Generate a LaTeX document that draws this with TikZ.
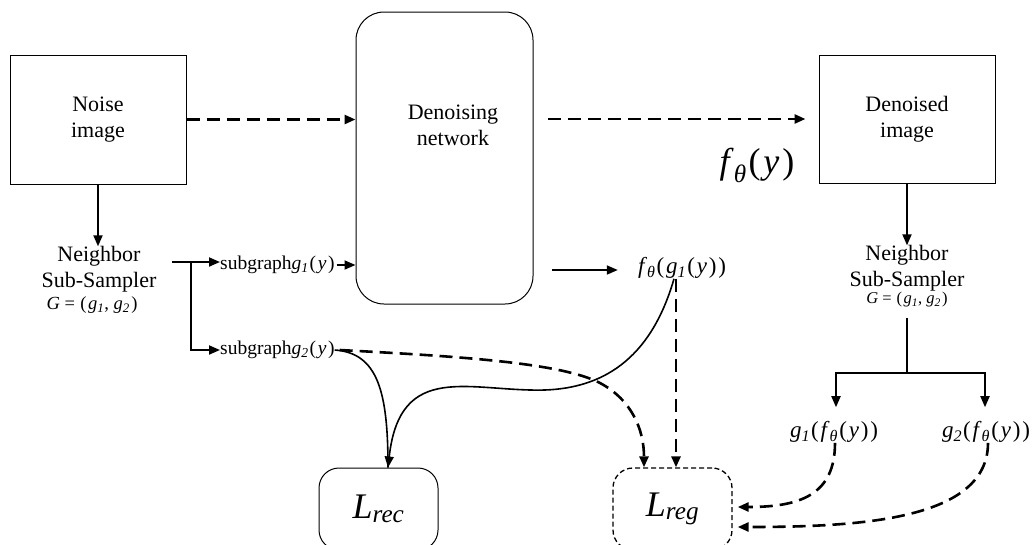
\documentclass[tikz,border=0pt]{standalone}
\usepackage{fontspec}
\setmainfont{Liberation Serif}
\usetikzlibrary{arrows.meta}
\newcommand{\ii}[1]{\textit{#1}}
\newcommand{\sbi}[1]{\textsubscript{\textit{#1}}}
\newcommand{\lp}{\kern0.05em(\kern0.08em}
\newcommand{\rp}{\kern0.08em)}
\begin{document}
\begin{tikzpicture}[x=1pt,y=-1pt,
  box/.style={draw, line width=1pt, inner sep=0pt},
  txt/.style={font=\fontsize{22}{26}\selectfont, align=center, inner sep=0pt},
  smtxt/.style={font=\fontsize{19.5}{19.5}\selectfont, inner sep=0pt},
  mtxt/.style={font=\fontsize{23}{23}\selectfont, inner sep=0pt},
  tip/.style={-{Triangle[length=11pt,width=9pt]}},
  sol/.style={line width=1.8pt, tip},
  dsh/.style={line width=2.6pt, dash pattern=on 13pt off 7pt, tip},
  crv/.style={line width=1.6pt}]
\useasboundingbox (0,0) rectangle (1033,544);
\fill[white] (0,0) rectangle (1033,544);
\clip (0,0) rectangle (1033,544);

% boxes
\node[box, txt, minimum width=176pt, minimum height=129pt] (noise) at (98,119.5) {Noise\\image};
\node[box, rounded corners=28pt, minimum width=177pt, minimum height=292pt] (dn) at (444.5,158) {};
\node[txt] (dnt) at (453,125) {Denoising\\network};
\node[box, txt, minimum width=176pt, minimum height=128pt] (dd) at (907,119) {Denoised\\image};
\node[font=\fontsize{36}{36}\selectfont, inner sep=0pt] (fy) at (757,165) {\ii{f}\sbi{θ}\lp\ii{y}\rp};

% left sub-sampler
\node[txt] (ns1) at (99,269.5) {Neighbor\\Sub-Sampler};
\node[font=\fontsize{18.5}{18.5}\selectfont, inner sep=0pt] (G1) at (92,305) {\ii{G} = \lp\ii{g}\sbi{1}, \ii{g}\sbi{2}\rp};
\node[smtxt, anchor=west] (sg1) at (220,265) {subgraph\ii{g}\sbi{1}\lp\ii{y}\rp};
\node[smtxt, anchor=west] (sg2) at (220,350) {subgraph\ii{g}\sbi{2}\lp\ii{y}\rp};
\coordinate (nso) at (172,262);
\coordinate (br) at (191,262);
\coordinate (dnout) at (552,270);

% right sub-sampler
\node[txt] (ns2) at (907,268.5) {Neighbor\\Sub-Sampler};
\node[font=\fontsize{16.5}{16.5}\selectfont, inner sep=0pt] (G2) at (907,300) {\ii{G} = \lp\ii{g}\sbi{1}, \ii{g}\sbi{2}\rp};
\coordinate (t1) at (907,318);
\coordinate (t2) at (907,373);
\node[mtxt] (fg1) at (682,268) {\ii{f}\sbi{θ}\lp\ii{g}\sbi{1}\lp\ii{y}\rp\rp};
\node[mtxt] (gf1) at (834,432) {\ii{g}\sbi{1}\lp\ii{f}\sbi{θ}\lp\ii{y}\rp\rp};
\node[mtxt] (gf2) at (986,432) {\ii{g}\sbi{2}\lp\ii{f}\sbi{θ}\lp\ii{y}\rp\rp};

% losses
\node[box, rounded corners=20pt, minimum width=119pt, minimum height=82pt, font=\fontsize{36}{36}\selectfont] (lrec) at (378.5,509) {\ii{L}\sbi{rec}};
\node[box, line width=1.3pt, dash pattern=on 5pt off 3pt, rounded corners=20pt, minimum width=119pt, minimum height=82pt, font=\fontsize{36}{36}\selectfont] (lreg) at (672.5,509) {\ii{L}\sbi{reg}};

% main dashed flow
\draw[dsh] (noise.east) -- (noise.east -| dn.west);
\draw[dsh] ([xshift=14pt]dn.east |- dd.west) -- ([xshift=-13pt]dd.west);

% solid arrows
\draw[sol] (noise.south) -- (noise.south |- ns1.north);
\draw[sol] (dd.south) -- (dd.south |- ns2.north);
\draw[line width=1.8pt] (nso) -- (br);
\draw[sol] (br) -- (br -| sg1.west);
\draw[sol] (br) |- (sg2.west);
\draw[sol] ([xshift=2pt]sg1.east) -- (sg1.east -| dn.west);
\draw[sol] (dnout) -- ([xshift=-20pt]dnout -| fg1.west);
\draw[line width=1.8pt] (t1) -- (t2);
\draw[sol] (t2) -| ([xshift=2pt,yshift=14pt]gf1.north);
\draw[sol] (t2) -| ([xshift=-1pt,yshift=14pt]gf2.north);

% curves into L_rec
\draw[crv] (sg2.east) .. controls (378,353) and (388,392) .. ([xshift=9.5pt]lrec.north);
\draw[crv, tip] ([xshift=-8pt]fg1.south) .. controls (650,362) and (600,388) .. (545,390)
  .. controls (470,392) and (400,360) .. ([xshift=9.5pt]lrec.north);

% dashed into L_reg
\draw[dsh] ([xshift=5pt]sg2.east) .. controls (450,356) and (560,362) .. (600,383)
  .. controls (632,400) and (644,430) .. ([xshift=-28.5pt]lreg.north);
\draw[dsh] ([xshift=-6pt]fg1.south) -- ([xshift=-6pt]fg1.south |- lreg.north);
\draw[dsh] ([xshift=1pt]gf1.south) .. controls (835,495) and (800,507) .. ([xshift=5pt,yshift=2pt]lreg.east);
\draw[dsh] ([xshift=2pt]gf2.south) .. controls (988,520) and (860,527) .. ([xshift=5pt,yshift=-18pt]lreg.east);
\end{tikzpicture}
\end{document}
